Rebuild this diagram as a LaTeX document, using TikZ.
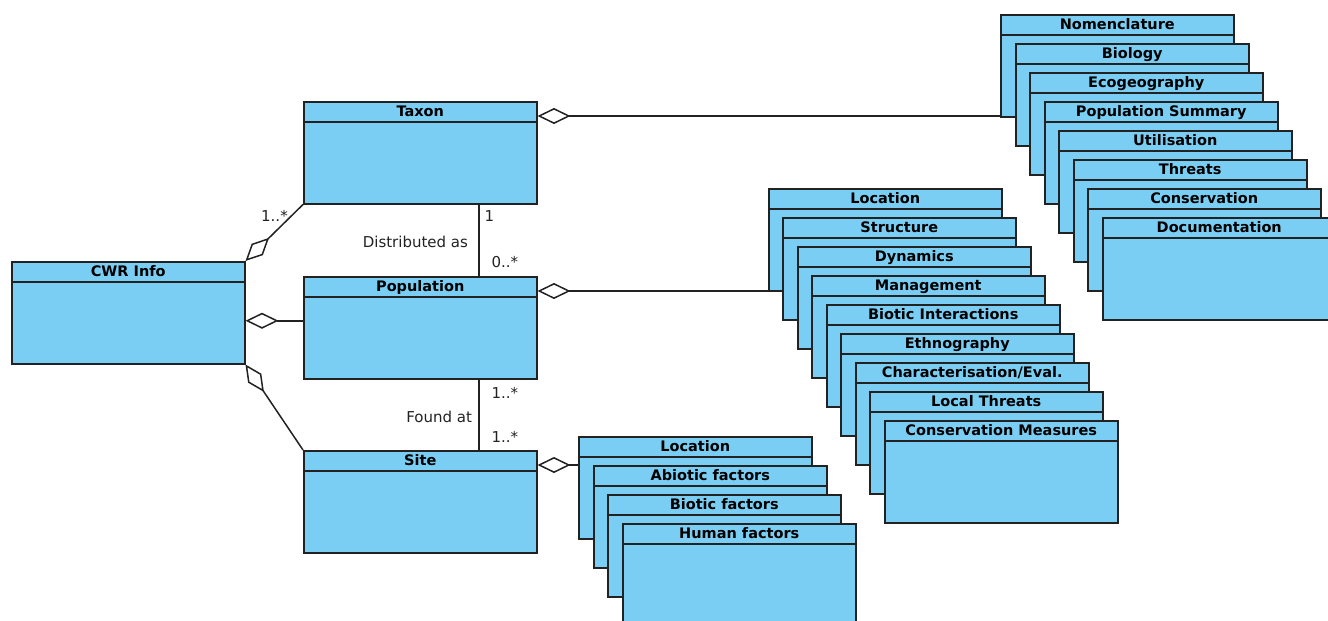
\documentclass[tikz,border=0pt]{standalone}
\usepackage{fontspec}
\setmainfont{DejaVu Sans}
\usetikzlibrary{arrows.meta}
\definecolor{umlblue}{RGB}{122,206,243}
\definecolor{umlline}{RGB}{34,34,34}

\begin{document}
\begin{tikzpicture}[x=1pt,y=-1pt,
    class node/.style={rectangle,draw=umlline,fill=umlblue,line width=1.5pt,
      anchor=north west,minimum width=233pt,inner ysep=4.75pt,
      text height=10.25pt,text depth=82.25pt,
      font=\fontsize{14.5}{16}\selectfont\bfseries,
      path picture={\draw[umlline,line width=1.5pt]
        ([yshift=-20pt]path picture bounding box.north west) --
        ([yshift=-20pt]path picture bounding box.north east);}},
    lbl/.style={font=\fontsize{15}{17}\selectfont,text=umlline,inner sep=0pt},
    conn/.style={color=umlline,line width=1.5pt},
    aggr/.style={arrows={Diamond[length=33pt,width=16pt,fill=white]-}}]

    \useasboundingbox (0,0) rectangle (1328,621);

    % main classes
    \node[class node] (CWR) at (11,261) {CWR Info};
    \node[class node] (TX) at (303,101) {Taxon};
    \node[class node] (PO) at (303,276) {Population};
    \node[class node] (SI) at (303,450) {Site};

    % taxon parts
    \node[class node] (NOM) at (1000,14) {Nomenclature};
    \node[class node] (BIO) at (1015,43) {Biology};
    \node[class node] (ECO) at (1029,72) {Ecogeography};
    \node[class node] (PSU) at (1044,101) {Population Summary};
    \node[class node] (UTI) at (1058,130) {Utilisation};
    \node[class node] (THR) at (1073,159) {Threats};
    \node[class node] (CON) at (1087,188) {Conservation};
    \node[class node] (DOC) at (1102,217) {Documentation};

    % population parts
    \node[class node] (PLO) at (768,188) {Location};
    \node[class node] (PST) at (782,217) {Structure};
    \node[class node] (PDY) at (797,246) {Dynamics};
    \node[class node] (PMA) at (811,275) {Management};
    \node[class node] (PBI) at (826,304) {Biotic Interactions};
    \node[class node] (PET) at (840,333) {Ethnography};
    \node[class node] (PCH) at (855,362) {Characterisation/Eval.};
    \node[class node] (PLT) at (869,391) {Local Threats};
    \node[class node] (PCM) at (884,420) {Conservation Measures};

    % site parts
    \node[class node] (SLO) at (578,436) {Location};
    \node[class node] (SAB) at (593,465) {Abiotic factors};
    \node[class node] (SBI) at (607,494) {Biotic factors};
    \node[class node] (SHU) at (622,523) {Human factors};

    \coordinate (CWRr) at ([yshift=-8pt]CWR.east);
    \coordinate (TXr) at ([yshift=-15pt]TX.north east);
    \coordinate (POr) at ([yshift=-15pt]PO.north east);
    \coordinate (SIr) at ([yshift=-15pt]SI.north east);
    \coordinate (TXb) at ([xshift=58.5pt]TX.south);
    \coordinate (POb) at ([xshift=58.5pt]PO.south);

    \path[conn]
    (CWR.north east) edge[aggr] node[lbl,pos=.8,anchor=east,inner sep=3pt] {1..*} (TX.south west)
    (CWRr) edge[aggr] (CWRr -| PO.west)
    (CWR.south east) edge[aggr] (SI.north west)
    (TXr) edge[aggr] (TXr -| NOM.west)
    (POr) edge[aggr] (POr -| PLO.west)
    (SIr) edge[aggr] (SIr -| SLO.west)
    (TXb) edge node[lbl,pos=.16,right=5pt] {1}
                node[lbl,pos=.53,left=10pt] {Distributed as}
                node[lbl,pos=.8,right=12pt] {0..*} (TXb |- PO.north)
    (POb) edge node[lbl,pos=.19,right=12pt] {1..*}
                node[lbl,pos=.53,left=6pt] {Found at}
                node[lbl,pos=.81,right=12pt] {1..*} (POb |- SI.north)
    ;
\end{tikzpicture}
\end{document}
